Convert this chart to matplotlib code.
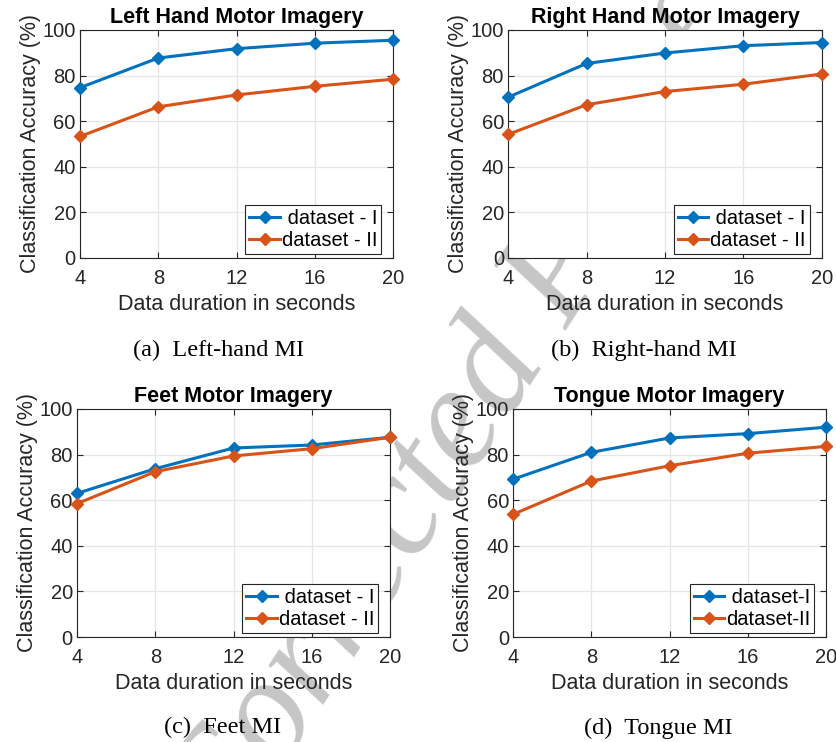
import matplotlib.pyplot as plt
import numpy as np

# data
durations = [4, 8, 12, 16, 20]

left_set1 = [74.7, 87.7, 91.8, 94.2, 95.5]
left_set2 = [53.3, 66.3, 71.5, 75.3, 78.4]

right_set1 = [70.5, 85.3, 89.9, 93.1, 94.5]
right_set2 = [54.2, 67.2, 73.0, 76.2, 80.7]

feet_set1 = [63.0, 73.8, 82.9, 84.2, 87.6]
feet_set2 = [58.5, 72.5, 79.4, 82.6, 87.6]

tongue_set1 = [69.2, 81.0, 87.3, 89.2, 92.0]
tongue_set2 = [53.8, 68.4, 75.1, 80.6, 83.6]

titles = ['Left Hand Motor Imagery', 'Right Hand Motor Imagery',
          'Feet Motor Imagery', 'Tongue Motor Imagery']
captions = ['(a)  Left-hand MI', '(b)  Right-hand MI',
            '(c)  Feet MI', '(d)  Tongue MI']
labels_std = [' dataset - I', 'dataset - II']
labels_tongue = [' dataset-I', 'dataset-II']

BLUE = '#0072BD'
ORANGE = '#D95319'
AXC = '#262626'

plt.rcParams['font.family'] = ['Liberation Sans', 'DejaVu Sans']

fig = plt.figure(figsize=(8.37, 7.42), dpi=100)

# watermark sits behind the (white) axes, only shows in the gaps
fig.text(0.545, 0.415, 'Corrected Proof', rotation=57, fontsize=105,
         family='Liberation Serif', style='italic', color='#c6c6c6',
         ha='center', va='center', zorder=-1)

positions = [
    [0.0956, 0.6523, 0.374, 0.3073],
    [0.607, 0.6523, 0.375, 0.3073],
    [0.092, 0.1415, 0.374, 0.3073],
    [0.613, 0.1415, 0.374, 0.3073],
]
series = [(left_set1, left_set2), (right_set1, right_set2),
          (feet_set1, feet_set2), (tongue_set1, tongue_set2)]
caption_xy = [(219, 350), (644, 350), (223, 727), (658, 728)]

for i in range(4):
    ax = fig.add_axes(positions[i])
    s1, s2 = series[i]
    labs = labels_tongue if i == 3 else labels_std
    ax.plot(durations, s1, color=BLUE, lw=2.2, marker='D', ms=6.5, label=labs[0],
            clip_on=False, zorder=3)
    ax.plot(durations, s2, color=ORANGE, lw=2.2, marker='D', ms=6.5, label=labs[1],
            clip_on=False, zorder=3)

    ax.set_xlim(4, 20)
    ax.set_ylim(0, 100)
    ax.set_xticks(durations)
    ax.set_yticks(np.arange(0, 101, 20))
    ax.grid(True, color='#e6e6e6', lw=0.9)
    ax.set_axisbelow(True)
    ax.tick_params(direction='in', length=4, width=0.8, colors=AXC,
                   labelsize=14.5, top=True, right=True)
    ax.tick_params(axis='x', pad=8)
    ax.tick_params(axis='y', pad=3)
    for sp in ax.spines.values():
        sp.set_color(AXC)
        sp.set_linewidth(0.8)

    ax.set_title(titles[i], fontsize=15.5, fontweight='bold', pad=5)
    ax.set_xlabel('Data duration in seconds', fontsize=15.5, color=AXC, labelpad=4)
    ax.set_ylabel('Classification Accuracy (%)', fontsize=15.5, color=AXC, labelpad=1)

    leg = ax.legend(loc='lower right', bbox_to_anchor=(0.962, 0.018),
                    borderaxespad=0, fontsize=14.5, fancybox=False,
                    framealpha=1, edgecolor=AXC, handlelength=1.5,
                    labelspacing=0.15, borderpad=0.2, handletextpad=0.1)
    leg.get_frame().set_linewidth(0.8)

    cx, cy = caption_xy[i]
    fig.text(cx / 837, 1 - cy / 742, captions[i], fontsize=17.5,
             family='Liberation Serif', ha='center', va='center')

fig.savefig('out.png', dpi=100)
